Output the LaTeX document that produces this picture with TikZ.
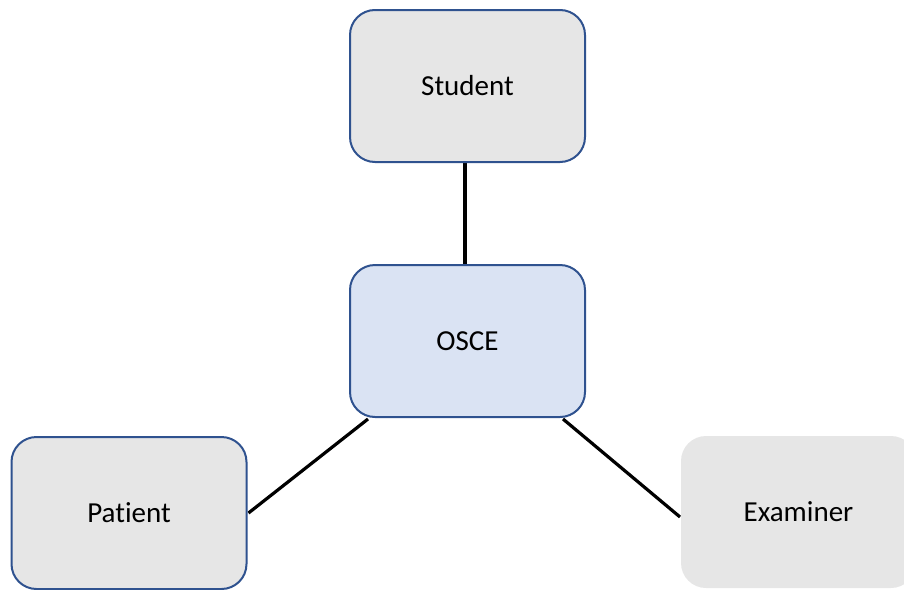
\documentclass[tikz,border=0pt]{standalone}
\usepackage{fontspec}
\setmainfont[Ligatures={NoCommon,NoDiscretionary,NoRare}]{Carlito}
\usetikzlibrary{backgrounds}
\definecolor{boxblue}{HTML}{2F528F}
\definecolor{boxgray}{HTML}{E6E6E6}
\definecolor{osceblue}{HTML}{DAE3F3}
\tikzset{
  box/.style={rectangle, rounded corners=25pt, minimum width=235pt, minimum height=152pt,
    fill=boxgray, draw=boxblue, line width=2pt, font=\fontsize{29}{34}\selectfont, text=black, inner sep=0pt},
  link/.style={draw=black, line width=3.2pt}
}
\begin{document}
\begin{tikzpicture}[x=1pt, y=-1pt]
\useasboundingbox (0,0) rectangle (904,589);
\clip (0,0) rectangle (904,589);
\node[box] (S) at (467.5,86) {Student};
\node[box, fill=osceblue] (O) at (467.5,341) {OSCE};
\node[box] (P) at (129,513) {Patient};
\node[box, draw=none] (E) at (798.5,512) {Examiner};
\begin{scope}[on background layer]
\draw[link] ([xshift=-2.5pt]S.south) -- ([xshift=-2.5pt]O.north);
\draw[link] ([xshift=19pt,yshift=-1pt]O.south west) -- ([xshift=1pt]P.east);
\draw[link] ([xshift=-23pt,yshift=-1pt]O.south east) -- ([yshift=-5pt]E.west);
\end{scope}
\end{tikzpicture}
\end{document}
